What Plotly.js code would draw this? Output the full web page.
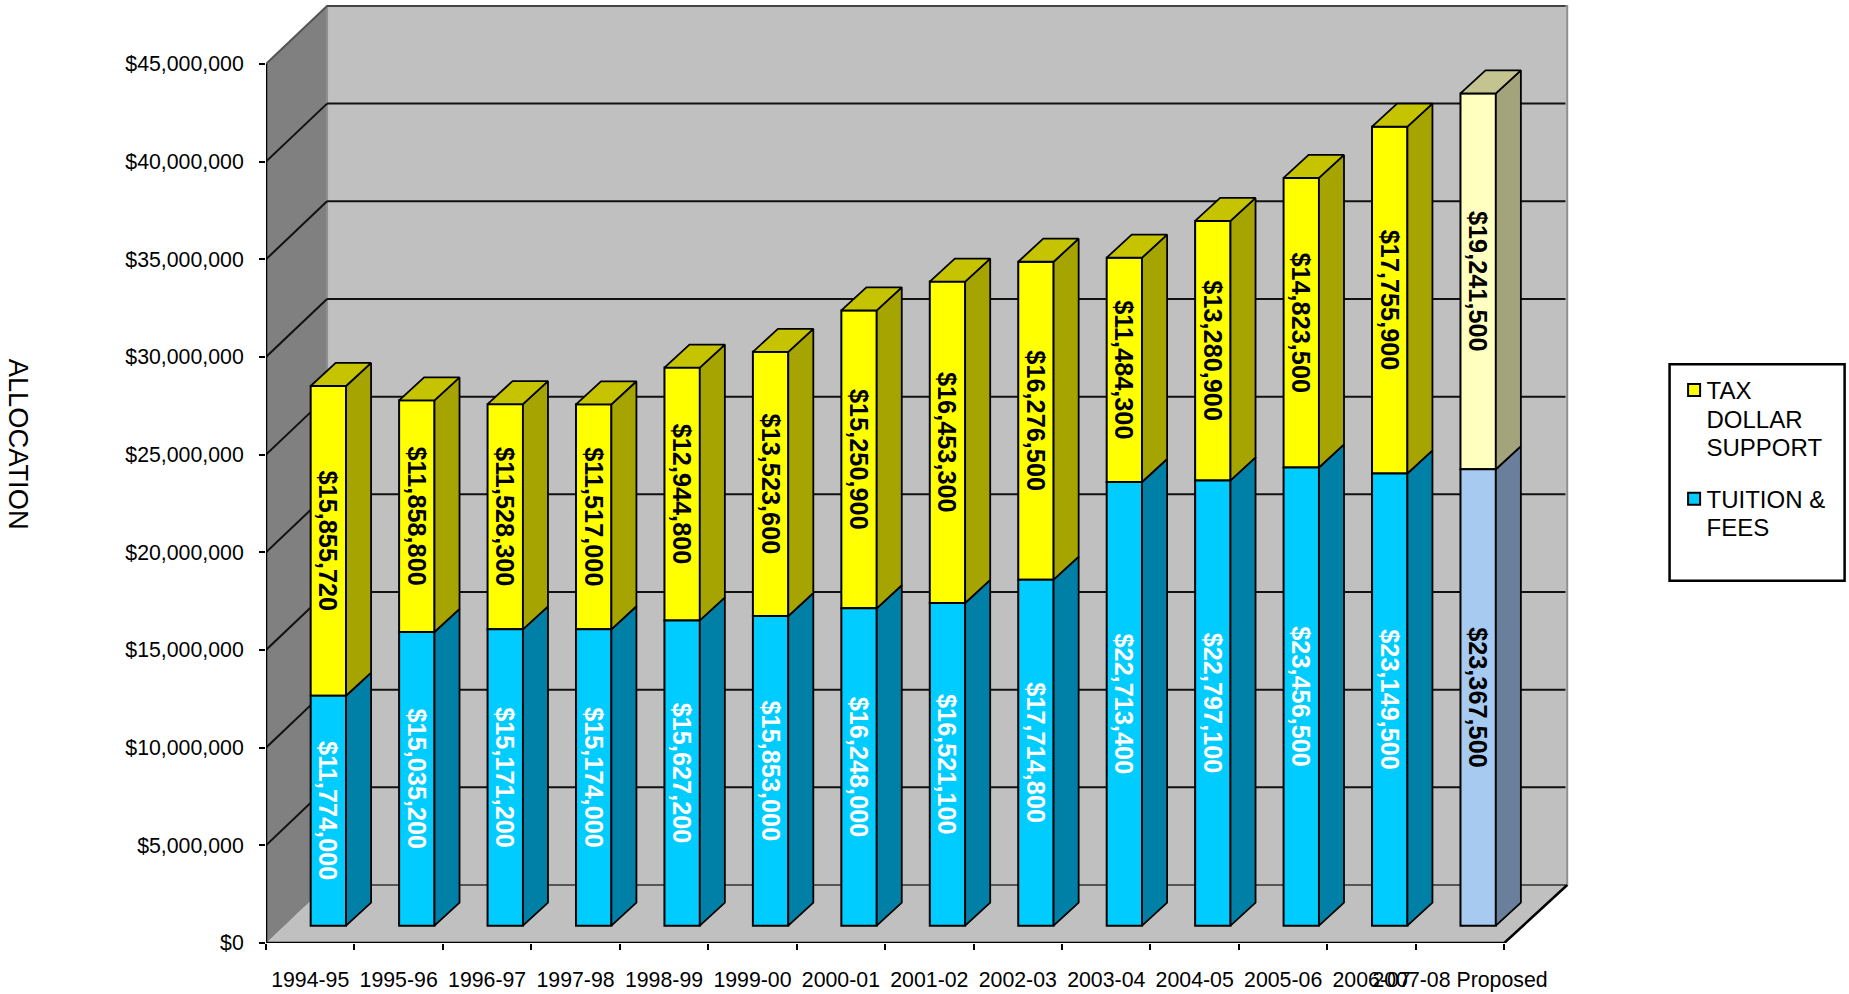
<!DOCTYPE html>
<html>
<head>
<meta charset="utf-8">
<script src="https://cdn.plot.ly/plotly-3.0.1.min.js"></script>
<style>html,body{margin:0;padding:0;background:#fff}</style>
</head>
<body>
<div id="chart" style="width:1849px;height:994px"></div>
<script>
var years = ["1994-95","1995-96","1996-97","1997-98","1998-99","1999-00","2000-01","2001-02","2002-03","2003-04","2004-05","2005-06","2006-07","2007-08 Proposed"];
var tuition = [11774000,15035200,15171200,15174000,15627200,15853000,16248000,16521100,17714800,22713400,22797100,23456500,23149500,23367500];
var tax = [15855720,11858800,11528300,11517000,12944800,13523600,15250900,16453300,16276500,11484300,13280900,14823500,17755900,19241500];
var tuitionName = "TUITION &<br>FEES";
var taxName = "TAX<br>DOLLAR<br>SUPPORT";
var axisTitle = "ALLOCATION";

var pxCat = 88.43, pxDollar = 19.54e-6;
var wallDx = 0.69, wallRightDx = 0.712, wallDy = 2.97e6;
var barOffX = 0.505, barW = 0.4, barBase = 0.885e6;
var sideDx = 0.283, sideDy = 1.18e6;
var yTop = 45e6, n = years.length;
var xMax = n + wallRightDx + 0.02, yMax = yTop + wallDy + 0.1e6;
var left = 266, bottom = 943;
var plotW = xMax * pxCat, plotH = yMax * pxDollar;

var font = "Liberation Sans, Arial, sans-serif";
var idx = years.map(function(_, i){ return i; });
var centers = idx.map(function(i){ return i + barOffX + barW / 2; });
var money = function(v){ return "$" + v.toLocaleString("en-US"); };
var isLast = function(i){ return i === n - 1; };

function polyTrace(color, picker){
  var xs = [], ys = [];
  idx.forEach(function(i){
    var p = picker(i);
    if (!p) return;
    p.forEach(function(q){ xs.push(q[0]); ys.push(q[1]); });
    xs.push(p[0][0]); ys.push(p[0][1]);
    xs.push(null); ys.push(null);
  });
  return {type:"scatter", mode:"lines", x:xs, y:ys, fill:"toself", fillcolor:color,
          line:{color:"#000", width:1.8}, hoverinfo:"skip", showlegend:false, cliponaxis:false};
}
function side(i, from, to){
  var xr = centers[i] + barW / 2;
  return [[xr, from],[xr + sideDx, from + sideDy],[xr + sideDx, to + sideDy],[xr, to]];
}
function top_(i, y){
  var xl = centers[i] - barW / 2, xr = centers[i] + barW / 2;
  return [[xl, y],[xr, y],[xr + sideDx, y + sideDy],[xl + sideDx, y + sideDy]];
}
var sideBlue = function(i){ return side(i, barBase, barBase + tuition[i]); };
var sideYellow = function(i){ return side(i, barBase + tuition[i], barBase + tuition[i] + tax[i]); };
var topYellow = function(i){ return top_(i, barBase + tuition[i] + tax[i]); };
var only = function(f, last){ return function(i){ return isLast(i) === last ? f(i) : null; }; };

var barLine = {color:"#000", width:2};
var traces = [
  {type:"bar", name:taxName, legendgroup:"tax", x:centers, y:tax, base:tuition.map(function(v){ return barBase + v; }), width:barW,
   marker:{color:idx.map(function(i){ return isLast(i) ? "#FFFFC0" : "#FFFF00"; }), line:barLine},
   text:tax.map(money), textposition:"inside", textangle:90, insidetextanchor:"middle", constraintext:"none",
   insidetextfont:{family:font, size:25.3, weight:700, color:"#000"},
   hoverinfo:"skip"},
  {type:"bar", name:tuitionName, legendgroup:"tuition", x:centers, y:tuition, base:tuition.map(function(){ return barBase; }), width:barW,
   marker:{color:idx.map(function(i){ return isLast(i) ? "#A6CAF0" : "#00CCFF"; }), line:barLine},
   text:tuition.map(money), textposition:"inside", textangle:90, insidetextanchor:"middle", constraintext:"none",
   insidetextfont:{family:font, size:25.3, weight:700, color:idx.map(function(i){ return isLast(i) ? "#000" : "#fff"; })},
   hoverinfo:"skip"},
  polyTrace("#0080A6", only(sideBlue, false)),
  polyTrace("#A6A400", only(sideYellow, false)),
  polyTrace("#C6C400", only(topYellow, false)),
  polyTrace("#6A7F9B", only(sideBlue, true)),
  polyTrace("#A4A47C", only(sideYellow, true)),
  polyTrace("#C4C490", only(topYellow, true)),
  {type:"scatter", mode:"lines", x:[0,0,n,n + wallRightDx], y:[yTop,0,0,wallDy], line:{color:"#000", width:2.5},
   hoverinfo:"skip", showlegend:false, cliponaxis:false}
];

function path(pts){
  return "M" + pts.map(function(p){ return p[0] + "," + p[1]; }).join("L") + "Z";
}
var backR = n + wallRightDx;
var shapes = [];
shapes.push({type:"path", layer:"below", xref:"x", yref:"y", path:path([[0,0],[wallDx,wallDy],[wallDx,yTop + wallDy],[0,yTop]]),
             fillcolor:"#808080", line:{color:"#6e6e6e", width:1}});
shapes.push({type:"path", layer:"below", xref:"x", yref:"y", path:path([[0,0],[n,0],[backR,wallDy],[wallDx,wallDy]]),
             fillcolor:"#C0C0C0", line:{color:"#C0C0C0", width:0}});
shapes.push({type:"rect", layer:"below", xref:"x", yref:"y", x0:wallDx, x1:backR, y0:wallDy, y1:yTop + wallDy,
             fillcolor:"#C0C0C0", line:{color:"#909090", width:2}});
for (var k = 0; k <= 9; k++){
  var v = k * 5e6, dark = (k === 0) ? "#555" : (k === 9 ? "#444" : "#111");
  shapes.push({type:"line", layer:"below", xref:"x", yref:"y", x0:wallDx, x1:backR - 0.02, y0:v + wallDy, y1:v + wallDy,
               line:{color:dark, width:2}});
  if (k > 0) shapes.push({type:"line", layer:"below", xref:"x", yref:"y", x0:0, x1:wallDx, y0:v, y1:v + wallDy,
               line:{color:k === 9 ? "#555" : "#111", width:2}});
}
// legend frame, in paper fractions of the plot box
var toPX = function(px){ return (px - left) / plotW; };
var toPY = function(py){ return (bottom - py) / plotH; };
shapes.push({type:"rect", xref:"paper", yref:"paper", x0:toPX(1669.3), x1:toPX(1844.3), y0:toPY(364), y1:toPY(580.7),
             fillcolor:"rgba(0,0,0,0)", line:{color:"#000", width:2.5}});

var layout = {
  width:1849, height:994, autosize:false,
  margin:{l:left, r:1849 - left - plotW, t:bottom - plotH, b:994 - bottom, pad:0},
  paper_bgcolor:"#fff", plot_bgcolor:"#fff",
  barmode:"overlay", showlegend:true, hovermode:false,
  font:{family:font, color:"#000", size:21},
  xaxis:{range:[0,xMax], showgrid:false, zeroline:false, showline:false, tickmode:"array",
         tickvals:idx.map(function(i){ return i + 0.5; }), ticktext:years, tickangle:0, ticks:"", ticklabelstandoff:22,
         tickfont:{family:font, size:21.3, color:"#000"},
         minor:{tickmode:"array", tickvals:idx.concat([n]), ticks:"outside", ticklen:6, tickwidth:2, tickcolor:"#000", showgrid:false}},
  yaxis:{range:[0,yMax], showgrid:false, zeroline:false, showline:false, tick0:0, dtick:5e6, tickformat:"$,.0f",
         ticks:"outside", ticklen:6, tickwidth:2, tickcolor:"#000", ticklabelstandoff:11,
         tickfont:{family:font, size:21.3, color:"#000"}},
  legend:{xref:"container", yref:"container", x:1666.5 / 1849, y:1 - 368 / 994, xanchor:"left", yanchor:"top",
          traceorder:"grouped", bgcolor:"rgba(0,0,0,0)", borderwidth:0, tracegroupgap:12,
          font:{family:font, size:24, color:"#000"}},
  shapes:shapes,
  annotations:[{text:axisTitle, xref:"paper", yref:"paper", x:toPX(18.5), y:toPY(444), xanchor:"center", yanchor:"middle",
                textangle:90, showarrow:false, font:{family:font, size:27.3, color:"#000"}}]
};
Plotly.newPlot("chart", traces, layout, {displayModeBar:false, staticPlot:true}).then(function(gd){
  // The reference legend sets tighter lines and aligns each swatch with its first line.
  gd.querySelectorAll(".legend .traces").forEach(function(row){
    var lines = row.querySelectorAll(".legendtext tspan.line");
    lines.forEach(function(t, i){ t.setAttribute("dy", (i * 1.17) + "em"); });
    var sym = row.querySelector(".legendsymbols");
    if (sym) sym.setAttribute("transform", "translate(7.6," + (-(lines.length - 1) * 15.6) + ")");
  });
});
</script>
</body>
</html>
